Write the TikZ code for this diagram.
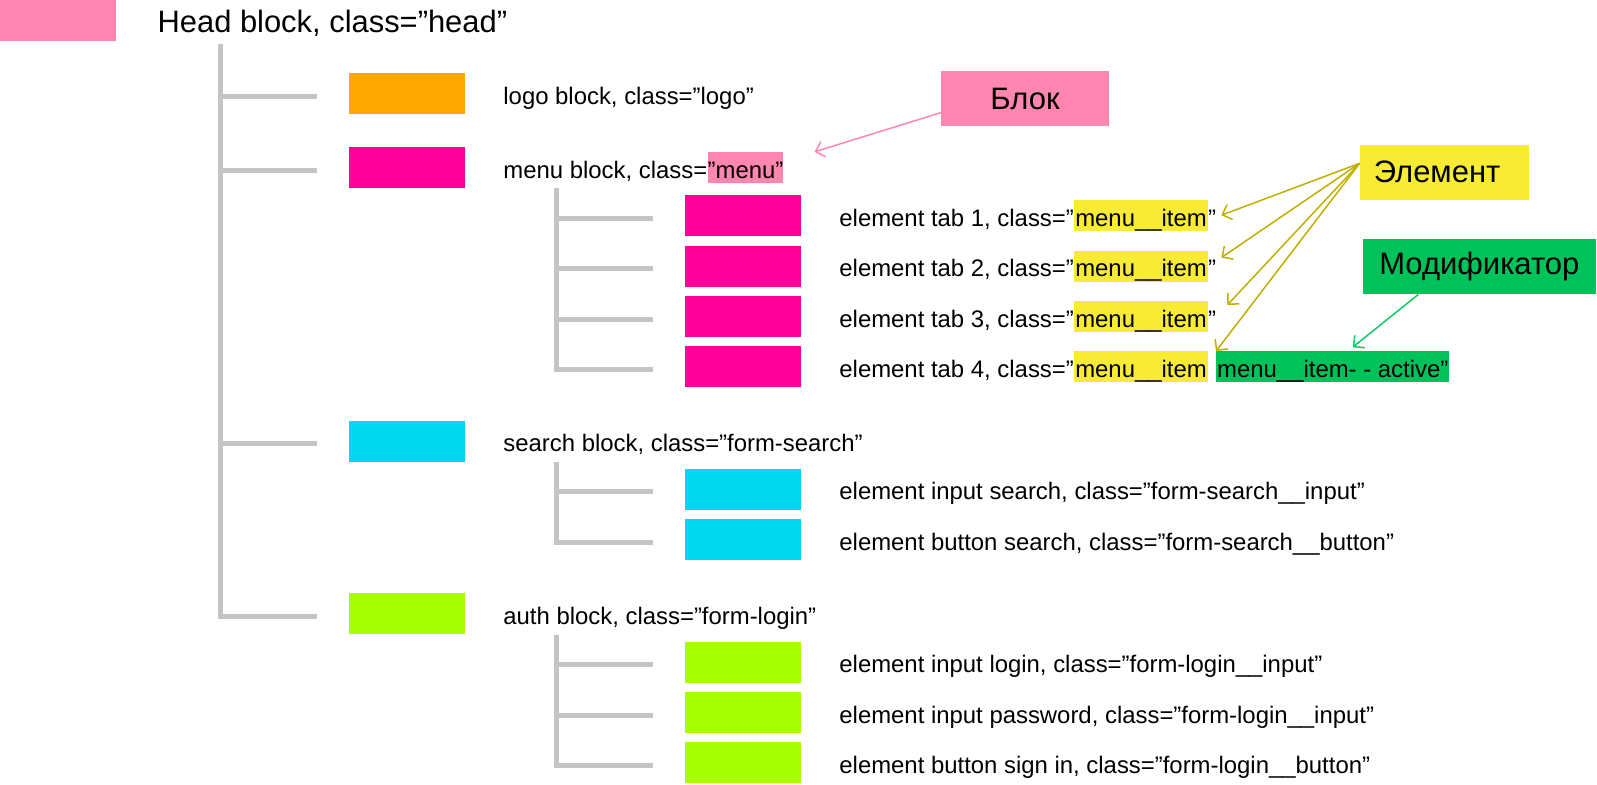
\documentclass[tikz,border=0pt]{standalone}
\usepackage{fontspec}
\setmainfont{Liberation Sans}
\usetikzlibrary{positioning,arrows.meta}

\definecolor{headpink}{RGB}{255,134,177}
\definecolor{logoorange}{RGB}{255,168,0}
\definecolor{menumagenta}{RGB}{255,0,153}
\definecolor{searchcyan}{RGB}{0,216,240}
\definecolor{authlime}{RGB}{168,255,0}
\definecolor{elemyellow}{RGB}{248,235,53}
\definecolor{modgreen}{RGB}{0,194,90}
\definecolor{treegray}{RGB}{196,196,196}
\definecolor{elemarrow}{RGB}{192,174,0}
\definecolor{modarrow}{RGB}{20,200,100}

\tikzset{blk/.style={         % coloured block rectangle
           fill=#1,
           minimum width=116pt,
           minimum height=41pt,
           inner sep=0pt},
         txt/.style={         % a piece of text, placed by its baseline
           anchor=base west,
           inner sep=0pt,
           font=\fontsize{23.9}{28}\selectfont},
         hl/.style={          % highlighted class name
           txt,
           fill=#1,
           text height=26pt,
           text depth=5pt,
           inner xsep=1pt},
         lbl/.style={         % legend boxes on the right
           fill=#1,
           minimum height=55pt,
           inner sep=0pt,
           font=\fontsize{31}{36}\selectfont},
         branch/.style={      % grey tree lines
           draw=treegray,
           line width=5pt,
           shorten >=32pt},
         pointer/.style={     % thin arrows from the legend
           -{Straight Barb[length=8pt,width=16pt]},
           line width=1.5pt}}

\begin{document}
\begin{tikzpicture}[x=1pt, y=-1pt]
\useasboundingbox (0,0) rectangle (1597,784);

% head block
\node[blk=headpink, anchor=north west] (head) at (0,0) {};
\node[txt, font=\fontsize{30.9}{36}\selectfont] (headt) at ([xshift=41pt,yshift=-11.5pt]head.east) {Head block, class=”head”};

% first level blocks
\node[blk=logoorange] (logo) at (407,93.5) {};
\node[blk=menumagenta] (menu) at (407,167.5) {};
\node[blk=searchcyan] (search) at (407,441) {};
\node[blk=authlime] (auth) at (407,613.5) {};

\node[txt] (logot) at ([xshift=38pt,yshift=-10.5pt]logo.east) {logo block, class=”logo”};
\node[txt] (menut) at ([xshift=38pt,yshift=-10.5pt]menu.east) {menu block, class=};
\node[hl=headpink, inner xsep=0pt] (menuh) at (menut.base east) {”menu”};
\node[txt] (searcht) at ([xshift=38pt,yshift=-10.5pt]search.east) {search block, class=”form-search”};
\node[txt] (autht) at ([xshift=38pt,yshift=-10.5pt]auth.east) {auth block, class=”form-login”};

% menu elements
\node[blk=menumagenta] (tab1) at (743,215.7) {};
\node[blk=menumagenta] (tab2) at (743,266.1) {};
\node[blk=menumagenta] (tab3) at (743,316.5) {};
\node[blk=menumagenta] (tab4) at (743,366.9) {};

\node[txt] (tab1t) at ([xshift=38pt,yshift=-10.5pt]tab1.east) {element tab 1, class=”};
\node[hl=elemyellow] (tab1h) at (tab1t.base east) {menu\_\_item};
\node[txt] (tab1q) at (tab1h.base east) {”};
\node[txt] (tab2t) at ([xshift=38pt,yshift=-10.5pt]tab2.east) {element tab 2, class=”};
\node[hl=elemyellow] (tab2h) at (tab2t.base east) {menu\_\_item};
\node[txt] (tab2q) at (tab2h.base east) {”};
\node[txt] (tab3t) at ([xshift=38pt,yshift=-10.5pt]tab3.east) {element tab 3, class=”};
\node[hl=elemyellow] (tab3h) at (tab3t.base east) {menu\_\_item};
\node[txt] (tab3q) at (tab3h.base east) {”};
\node[txt] (tab4t) at ([xshift=38pt,yshift=-10.5pt]tab4.east) {element tab 4, class=”};
\node[hl=elemyellow] (tab4h) at (tab4t.base east) {menu\_\_item};
\node[hl=modgreen] (tab4m) at ([xshift=8pt]tab4h.base east) {menu\_\_item- - active”};

% search elements
\node[blk=searchcyan] (input) at (743,489.2) {};
\node[blk=searchcyan] (button) at (743,539.6) {};
\node[txt] (inputt) at ([xshift=38pt,yshift=-10.5pt]input.east) {element input search, class=”form-search\_\_input”};
\node[txt] (buttont) at ([xshift=38pt,yshift=-10.5pt]button.east) {element button search, class=”form-search\_\_button”};

% login elements
\node[blk=authlime] (login) at (743,662.2) {};
\node[blk=authlime] (passwd) at (743,712.5) {};
\node[blk=authlime] (signin) at (743,762.8) {};
\node[txt] (logint) at ([xshift=38pt,yshift=-10.5pt]login.east) {element input login, class=”form-login\_\_input”};
\node[txt] (passwdt) at ([xshift=38pt,yshift=-10.5pt]passwd.east) {element input password, class=”form-login\_\_input”};
\node[txt] (signint) at ([xshift=38pt,yshift=-10.5pt]signin.east) {element button sign in, class=”form-login\_\_button”};

% tree lines, a little below the block centres
\coordinate (root) at (220,44);
\coordinate (menuroot) at (556,188);
\coordinate (searchroot) at (556,462);
\coordinate (authroot) at (556,635);

\draw[branch] (root) |- ([yshift=-2.5pt]logo.west);
\draw[branch] (root) |- ([yshift=-2.5pt]menu.west);
\draw[branch] (root) |- ([yshift=-2.5pt]search.west);
\draw[branch] (root) |- ([yshift=-2.5pt]auth.west);

\draw[branch] (menuroot) |- ([yshift=-2.5pt]tab1.west);
\draw[branch] (menuroot) |- ([yshift=-2.5pt]tab2.west);
\draw[branch] (menuroot) |- ([yshift=-2.5pt]tab3.west);
\draw[branch] (menuroot) |- ([yshift=-2.5pt]tab4.west);

\draw[branch] (searchroot) |- ([yshift=-2.5pt]input.west);
\draw[branch] (searchroot) |- ([yshift=-2.5pt]button.west);

\draw[branch] (authroot) |- ([yshift=-2.5pt]login.west);
\draw[branch] (authroot) |- ([yshift=-2.5pt]passwd.west);
\draw[branch] (authroot) |- ([yshift=-2.5pt]signin.west);

% legend
\node[lbl=headpink, minimum width=168pt] (blok) at (1025,98.7) {Блок};
\node[lbl=elemyellow, minimum width=169pt, text width=141pt] (elem) at (1444.4,172) {Элемент};
\node[lbl=modgreen, minimum width=233pt] (modif) at (1479.3,266.7) {Модификатор};

\draw[pointer, headpink] ([yshift=-14pt]blok.west) -- ([xshift=31pt]menuh.north east);

\draw[pointer, elemarrow] ([yshift=8.7pt]elem.west) -- ([xshift=5pt,yshift=11pt]tab1q.base east);
\draw[pointer, elemarrow] ([yshift=8.7pt]elem.west) -- ([xshift=5pt,yshift=19pt]tab2q.base east);
\draw[pointer, elemarrow] ([yshift=8.7pt]elem.west) -- ([xshift=11pt,yshift=22pt]tab3q.base east);
\draw[pointer, elemarrow] ([yshift=8.7pt]elem.west) -- (tab4m.north west);

\draw[pointer, modarrow] ([xshift=-61pt]modif.south) -- ([xshift=20pt,yshift=4pt]tab4m.north);

\end{tikzpicture}
\end{document}
